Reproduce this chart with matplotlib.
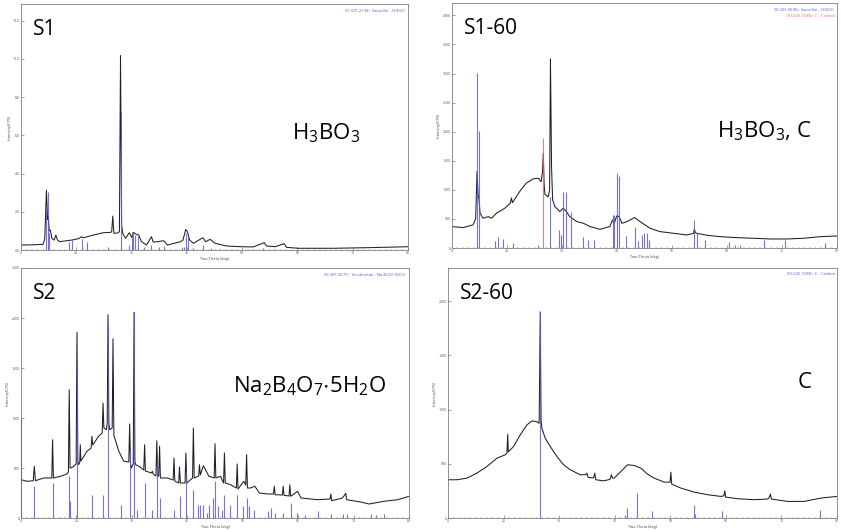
import matplotlib
matplotlib.use("Agg")
import matplotlib.pyplot as plt
from matplotlib.ticker import FuncFormatter, MultipleLocator
import numpy as np

plt.rcParams['font.family'] = ['Open Sans', 'DejaVu Sans']
plt.rcParams['mathtext.fontset'] = 'custom'
plt.rcParams['mathtext.rm'] = 'Open Sans'

# ---- S1 : observed pattern and Sassolite reference sticks
s1_theta = [10.0, 12.0, 14.0, 14.3, 14.6, 14.8, 14.95, 15.1, 15.3, 15.6, 16.0, 16.3, 16.6, 17.0,
            18.3, 19.2, 20.5, 20.9, 21.3, 23.1, 24.9, 26.1, 26.4, 26.6, 26.8, 27.5, 27.8, 28.0,
            28.2, 28.4, 28.9, 29.6, 30.0, 30.3, 30.6, 30.9, 31.3, 31.8, 32.7, 33.6, 33.9, 34.6,
            35.8, 36.5, 38.8, 39.3, 39.8, 40.1, 40.5, 41.2, 42.9, 43.4, 44.2, 45.1, 47.2, 49.6,
            52.0, 54.0, 54.4, 56.0, 57.6, 58.0, 60.2, 66.5, 72.5, 79.9]
s1_counts = [261, 270, 296, 600, 3130, 1600, 1740, 1000, 1043, 600, 520, 780, 520, 435,
             487, 520, 600, 695, 640, 783, 904, 920, 950, 1774, 870, 900, 960, 10174,
             1300, 870, 610, 904, 660, 922, 870, 820, 780, 435, 260, 696, 420, 430,
             487, 260, 430, 520, 1078, 960, 520, 350, 643, 430, 560, 350, 210, 174,
             160, 383, 210, 174, 330, 140, 90, 90, 120, 170]
s1_ref_pos = [14.6, 14.95, 15.1, 18.6, 19.2, 21.0, 21.9, 25.8, 28.0, 29.5, 30.0, 30.3, 30.7,
              31.2, 32.3, 33.6, 35.0, 35.8, 39.1, 39.4, 39.8, 40.2, 41.2, 42.9, 44.4, 46.0,
              48.1, 52.0, 53.8, 56.0]
s1_ref_int = [2250, 3050, 870, 435, 520, 560, 435, 140, 7200, 260, 870, 870, 780,
              730, 170, 260, 140, 210, 170, 140, 870, 700, 90, 260, 90, 50,
              50, 70, 90, 50]

# ---- S1-60
s160_theta = [10.0, 12.0, 13.8, 14.3, 14.55, 14.75, 14.9, 15.1, 15.65, 16.6, 17.2, 18.1, 19.6,
              20.6, 20.8, 21.0, 22.3, 23.5, 24.8, 25.7, 26.2, 26.45, 26.6, 26.75, 26.9, 27.5,
              27.75, 27.9, 28.1, 28.3, 28.7, 29.6, 30.2, 30.8, 31.4, 32.7, 33.9, 35.1, 36.9,
              38.7, 39.2, 39.5, 39.95, 40.4, 40.9, 41.8, 43.2, 44.2, 46.0, 47.8, 50.3, 52.7,
              53.9, 54.05, 54.3, 54.5, 56.4, 58.8, 61.8, 64.9, 67.9, 70.9, 73.9, 77.0, 80.0]
s160_counts = [368, 351, 397, 500, 1316, 900, 856, 600, 511, 540, 511, 600, 684,
               770, 860, 780, 971, 1115, 1190, 1200, 1140, 1300, 1632, 1100, 920, 880,
               1000, 3253, 1400, 828, 713, 626, 684, 626, 540, 454, 425, 368, 322,
               368, 483, 425, 552, 540, 425, 454, 523, 454, 339, 282, 253, 224,
               250, 322, 260, 253, 218, 195, 178, 167, 155, 155, 167, 195, 207]
s160_ref_pos = [14.55, 14.9, 17.8, 18.4, 19.2, 21.0, 25.7, 27.9, 29.5, 29.9, 30.2, 30.65, 31.6,
                33.75, 34.8, 35.8, 39.2, 39.5, 39.95, 40.4, 41.7, 43.2, 43.9, 44.5, 44.9,
                45.5, 45.9, 54.05, 54.5, 56.0, 60.3, 61.5, 62.4, 66.7, 70.6, 77.9]
s160_ref_int = [3011, 2006, 121, 184, 150, 92, 52, 880, 310, 224, 971, 971, 626,
                195, 138, 138, 569, 569, 1287, 1230, 207, 368, 126, 224, 253,
                264, 138, 483, 253, 138, 109, 52, 52, 138, 138, 80]
s160_c_pos = [26.6]
s160_c_int = [1890]

# ---- S2
s2_theta = [10.0, 11.1, 12.2, 12.4, 12.6, 14.1, 15.55, 15.7, 15.85, 17.1, 18.3, 18.55, 18.7, 18.85,
            19.0, 19.5, 19.95, 20.1, 20.25, 20.4, 20.6, 20.7, 20.8, 21.9, 22.65, 22.8, 22.95,
            24.0, 24.65, 24.8, 24.95, 25.0, 25.4, 25.55, 25.7, 25.85, 26.0, 26.45, 26.6, 26.75,
            26.9, 27.65, 28.55, 29.45, 29.6, 29.75, 29.9, 30.25, 30.4, 30.55, 30.7, 31.3, 32.15,
            32.3, 32.45, 32.6, 33.55, 33.7, 33.85, 34.35, 34.5, 34.65, 34.85, 35.0, 35.15, 36.4,
            37.45, 37.6, 37.75, 38.45, 38.6, 38.75, 39.6, 39.75, 39.9, 40.95, 41.1, 41.25, 42.05,
            42.2, 42.35, 42.9, 43.9, 44.85, 45.0, 45.15, 46.0, 46.55, 46.7, 46.85, 47.8, 48.85,
            49.0, 49.15, 50.2, 50.55, 50.7, 50.85, 51.4, 52.2, 53.0, 54.5, 55.55, 55.7, 55.85,
            57.15, 57.3, 57.45, 58.35, 58.5, 58.65, 59.9, 60.5, 63.5, 65.75, 65.9, 66.05, 68.0,
            68.6, 68.75, 71.3, 72.8, 75.5, 77.95, 80.0]
s2_counts = [383, 367, 373, 517, 373, 400, 400, 783, 400, 417, 440, 460, 1283, 500,
             500, 517, 540, 1857, 560, 533, 560, 733, 570, 667, 700, 817, 730,
             817, 850, 1150, 900, 900, 883, 950, 2033, 950, 883, 900, 1793, 830,
             800, 667, 567, 560, 940, 550, 500, 540, 2057, 560, 533, 517, 480,
             733, 470, 467, 450, 467, 440, 420, 773, 417, 420, 717, 400, 400,
             380, 600, 370, 350, 510, 350, 350, 650, 350, 400, 900, 400, 420,
             533, 430, 523, 417, 400, 743, 400, 417, 350, 650, 350, 333, 300,
             540, 290, 367, 330, 633, 300, 300, 317, 250, 240, 240, 317, 233,
             230, 317, 227, 220, 333, 217, 267, 200, 183, 190, 240, 173, 200,
             247, 183, 160, 140, 167, 183, 217]
s2_ref_pos = [10.0, 12.4, 15.7, 18.65, 18.9, 20.1, 22.8, 24.8, 25.7, 28.0, 29.6, 30.4, 30.9,
              32.3, 33.7, 34.5, 35.0, 37.6, 38.6, 39.75, 41.1, 41.9, 42.3, 42.9, 43.5, 44.0,
              44.6, 45.0, 45.6, 46.2, 46.7, 47.7, 49.0, 50.1, 50.7, 51.1, 52.1, 54.6, 55.1,
              55.9, 57.3, 58.8, 59.8, 61.2, 63.6, 65.9, 68.1, 68.8, 73.1, 74.1, 75.5]
s2_ref_int = [1000, 320, 350, 420, 170, 1500, 230, 230, 1900, 133, 667, 2060, 83,
              350, 83, 567, 200, 83, 217, 467, 283, 127, 127, 127, 50, 127,
              200, 367, 117, 83, 233, 133, 233, 117, 200, 117, 83, 73, 100,
              50, 50, 150, 50, 33, 67, 40, 40, 40, 40, 33, 40]

# ---- S2-60
s260_theta = [10.0, 11.6, 13.4, 15.2, 17.0, 18.8, 20.3, 20.6, 20.75, 20.85, 21.8, 23.0, 24.2,
              25.1, 26.0, 26.4, 26.6, 26.75, 26.9, 27.5, 28.4, 29.6, 30.8, 32.0, 33.8, 34.8,
              35.0, 35.2, 36.2, 36.4, 36.6, 38.0, 38.9, 39.2, 39.4, 39.6, 39.9, 41.1, 42.3,
              43.5, 44.7, 45.9, 47.1, 48.9, 49.95, 50.1, 50.25, 51.9, 54.3, 56.7, 59.1, 59.65,
              59.8, 59.95, 62.1, 65.1, 67.5, 67.8, 68.0, 68.2, 71.1, 74.1, 77.1, 80.0]
s260_counts = [353, 353, 368, 414, 475, 552, 583, 600, 773, 610, 660, 767, 859,
               896, 889, 874, 1902, 900, 828, 736, 660, 567, 491, 445, 399, 400,
               414, 375, 370, 414, 353, 343, 353, 360, 399, 368, 368, 429, 491,
               485, 460, 405, 368, 331, 330, 423, 313, 276, 239, 215, 199, 205,
               251, 193, 178, 169, 175, 190, 221, 175, 153, 153, 184, 199]
s260_ref_pos = [26.6, 41.9, 42.3, 44.1, 46.7, 54.2, 54.4, 59.3, 77.0]
s260_ref_int = [1902, 25, 92, 230, 61, 117, 40, 61, 77]

BLUE = '#5a5ae0'
RED = '#e06a6a'


def thousands(v, pos):
    return '%.1f' % (v / 1000.0)


def panel(rect, theta, counts, sticks, ymax, ystep, tag, phase, cards, fmt=None):
    ax = fig.add_axes(rect)
    ax.plot(theta, counts, color='#202020', lw=0.75, zorder=2)
    for pos, inten, col in sticks:
        ax.vlines(pos, 0, inten, color=col, lw=0.8, alpha=0.85, zorder=3)
    ax.set_xlim(10, 80)
    ax.set_ylim(0, ymax)
    ax.xaxis.set_major_locator(MultipleLocator(10))
    ax.xaxis.set_minor_locator(MultipleLocator(1))
    ax.yaxis.set_major_locator(MultipleLocator(ystep))
    if fmt is not None:
        ax.yaxis.set_major_formatter(FuncFormatter(fmt))
    ax.tick_params(which='both', direction='in', labelsize=2.5, colors='#555555', pad=1)
    ax.tick_params(which='major', length=2, width=0.4)
    ax.tick_params(which='minor', length=1, width=0.3)
    for sp in ax.spines.values():
        sp.set_color('#808080')
        sp.set_linewidth(0.6)
    ax.set_xlabel('Two-Theta (deg)', fontsize=2.8, color='#444444', labelpad=1)
    ax.set_ylabel('Intensity(CPS)', fontsize=2.8, color='#444444', labelpad=1)
    ax.text(0.03, 0.875, tag, transform=ax.transAxes, fontsize=15, va='baseline')
    ax.text(phase[0], phase[1], phase[2], transform=ax.transAxes, fontsize=16, va='baseline')
    for i, (txt, col) in enumerate(cards):
        ax.text(0.995, 0.985 - i * 0.03, txt, transform=ax.transAxes, fontsize=3,
                color=col, ha='right', va='top')
    return ax


fig = plt.figure(figsize=(8.41, 5.32), dpi=100)
W, H = 841.0, 532.0


def rect(l, r, t, b):
    return [l / W, 1 - b / H, (r - l) / W, (b - t) / H]


panel(rect(21, 408, 4, 250), s1_theta, s1_counts,
      [(p, i, BLUE) for p, i in zip(s1_ref_pos, s1_ref_int)],
      12870, 2000, 'S1', (0.70, 0.45, r'$\mathregular{H_3BO_3}$'),
      [(r'01-073-2158> Sassolite - $\mathregular{H_3BO_3}$', BLUE)], fmt=thousands)

panel(rect(452, 837, 3, 248), s160_theta, s160_counts,
      [(p, i, BLUE) for p, i in zip(s160_ref_pos, s160_ref_int)]
      + [(p, i, RED) for p, i in zip(s160_c_pos, s160_c_int)],
      4213, 500, 'S1-60', (0.688, 0.453, r'$\mathregular{H_3BO_3}$, C'),
      [(r'00-023-0580> Sassolite - $\mathregular{H_3BO_3}$', BLUE),
       ('00-026-1080> C - Carbon', RED)])

panel(rect(21, 409, 268, 518), s2_theta, s2_counts,
      [(p, i, BLUE) for p, i in zip(s2_ref_pos, s2_ref_int)],
      2500, 500, 'S2', (0.546, 0.504, r'$\mathregular{Na_2B_4O_7{\cdot}5H_2O}$'),
      [(r'00-007-0277> Tincalconite - $\mathregular{Na_2B_4O_7{\cdot}5H_2O}$', BLUE)])

panel(rect(448, 837, 268, 518), s260_theta, s260_counts,
      [(p, i, BLUE) for p, i in zip(s260_ref_pos, s260_ref_int)],
      2307, 500, 'S2-60', (0.90, 0.52, 'C'),
      [('00-026-1080> C - Carbon', BLUE)])

fig.savefig('out.png', dpi=100)
